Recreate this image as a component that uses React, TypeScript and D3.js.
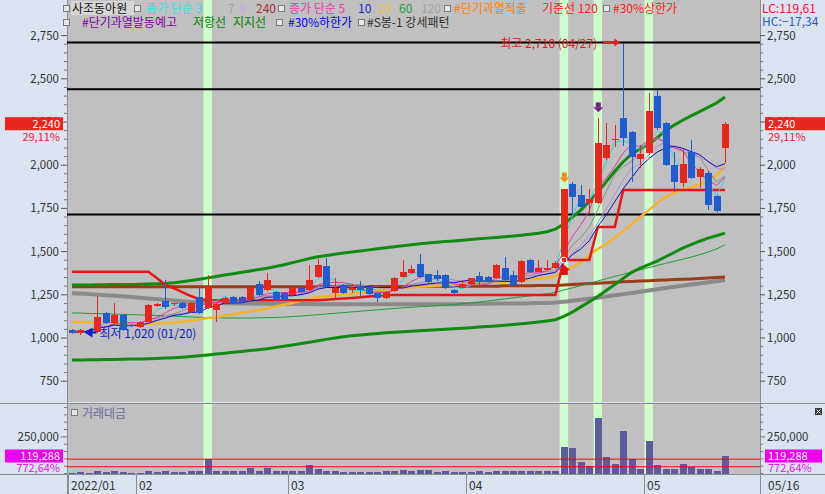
import React from "react";
import * as d3 from "d3";

const W = 825;
const H = 494;
const PLOT_L = 67;
const PLOT_R = 760;
const MAIN_B = 402;
const VOL_T = 404;
const VOL_B = 474;

const dates = [
  "2022-01-19","2022-01-20","2022-01-21","2022-01-24","2022-01-25","2022-01-26","2022-01-27","2022-01-28",
  "2022-02-03","2022-02-04","2022-02-07","2022-02-08","2022-02-09","2022-02-10","2022-02-11","2022-02-14","2022-02-15",
  "2022-02-16","2022-02-17","2022-02-18","2022-02-21","2022-02-22","2022-02-23","2022-02-24","2022-02-25","2022-02-28",
  "2022-03-02","2022-03-03","2022-03-04","2022-03-07","2022-03-08","2022-03-10","2022-03-11","2022-03-14","2022-03-15",
  "2022-03-16","2022-03-17","2022-03-18","2022-03-21","2022-03-22","2022-03-23","2022-03-24","2022-03-25","2022-03-28",
  "2022-03-29","2022-03-30","2022-03-31",
  "2022-04-01","2022-04-04","2022-04-05","2022-04-06","2022-04-07","2022-04-08","2022-04-11","2022-04-12","2022-04-13",
  "2022-04-14","2022-04-15","2022-04-18","2022-04-19","2022-04-20","2022-04-21","2022-04-22","2022-04-25","2022-04-26",
  "2022-04-27","2022-04-28","2022-04-29",
  "2022-05-02","2022-05-03","2022-05-04","2022-05-06","2022-05-09","2022-05-10","2022-05-11","2022-05-12","2022-05-13","2022-05-16",
];

const opens = [
  1045,1030,1045,1035,1145,1087,1133,1075,1064,1095,
  1188,1214,1194,1203,1150,1237,1174,1162,1203,1240,
  1237,1220,1312,1278,1266,1260,1249,1289,1278,1355,
  1418,1258,1307,1278,1301,1297,1258,1233,1272,1355,
  1374,1426,1368,1364,1364,1278,1291,1311,1359,1355,
  1345,1403,1364,1326,1451,1384,1393,1407,1451,1891,
  1828,1781,1781,2040,2146,2271,2194,2036,2069,2400,
  2242,2001,1895,2078,1933,1957,1822,2098,
];
const highs = [
  1050,1050,1052,1243,1150,1203,1140,1080,1098,1195,
  1205,1336,1205,1210,1208,1290,1365,1205,1238,1245,
  1245,1295,1330,1376,1272,1268,1295,1295,1422,1460,
  1463,1347,1315,1310,1330,1305,1262,1272,1352,1451,
  1420,1484,1372,1392,1368,1282,1336,1350,1380,1360,
  1430,1470,1390,1450,1458,1451,1451,1445,1865,1900,
  1885,1862,2271,2242,2233,2710,2200,2117,2416,2435,
  2252,2078,2088,2146,1990,1965,1830,2252,
];
const lows = [
  1028,1020,1030,1030,1080,1082,1040,1062,1060,1090,
  1180,1170,1185,1168,1145,1140,1165,1093,1198,1198,
  1200,1215,1245,1272,1215,1214,1245,1260,1272,1349,
  1290,1220,1255,1260,1240,1250,1207,1228,1268,1350,
  1370,1350,1320,1330,1284,1254,1288,1308,1300,1322,
  1340,1330,1300,1320,1378,1380,1390,1400,1440,1726,
  1755,1726,1775,2030,2107,2110,1904,1982,2060,2205,
  1995,1847,1876,1918,1867,1741,1730,2011,
];
const closes = [
  1030,1045,1036,1122,1087,1133,1046,1068,1093,1191,
  1194,1179,1200,1174,1203,1145,1297,1197,1232,1203,
  1206,1289,1249,1336,1220,1220,1289,1266,1336,1422,
  1297,1288,1258,1290,1278,1253,1230,1268,1349,1384,
  1397,1355,1326,1341,1288,1258,1311,1345,1326,1326,
  1422,1336,1307,1446,1384,1407,1403,1435,1865,1818,
  1760,1804,2128,2117,2152,2156,2049,2065,2315,2213,
  2001,1904,2007,1924,1976,1770,1735,2240,
];
// 거래대금 (백만원)
const volumes = [
  6000,8000,6000,20000,8000,14000,8000,6000,6000,14000,
  8000,20000,7000,8000,18000,20000,98000,20000,20000,14000,
  15000,38000,18000,38000,20000,15000,16000,15000,55000,34000,
  20000,15000,11000,13000,13000,13000,11000,15000,20000,25000,
  20000,27000,27000,13000,15000,11000,13000,11000,15000,11000,
  20000,15000,18000,20000,18000,15000,15000,20000,180000,174000,
  78000,51000,378000,112000,65000,290000,99000,31000,222000,58000,
  30000,30000,65000,44000,30000,30000,13669.8,119288,
];

const ma20 = [
  1095,1093,1091,1089,1087,1085,1083,1082,1081,1082,
  1084,1087,1090,1095,1100,1108,1116,1122,1130,1138,
  1146,1154,1162,1170,1182,1192,1203,1215,1228,1236,
  1242,1248,1253,1258,1263,1268,1275,1280,1285,1289,
  1292,1296,1299,1302,1305,1308,1311,1314,1317,1320,
  1323,1326,1330,1335,1340,1345,1350,1358,1385,1410,
  1440,1480,1515,1545,1580,1620,1660,1700,1740,1781,
  1815,1840,1858,1870,1890,1910,1940,1995,
];
const ma60 = [
  1145,1144,1142,1141,1140,1138,1137,1135,1134,1132,
  1130,1128,1126,1124,1122,1120,1118,1117,1116,1116,
  1116,1116,1117,1118,1119,1121,1124,1127,1131,1135,
  1139,1143,1147,1151,1155,1159,1163,1167,1171,1175,
  1178,1181,1184,1187,1190,1193,1198,1203,1208,1214,
  1220,1226,1232,1238,1244,1250,1256,1264,1278,1290,
  1303,1316,1330,1343,1356,1369,1382,1394,1407,1420,
  1432,1444,1456,1468,1482,1498,1515,1540,
];
const ma120 = [
  1259,1257,1254,1251,1248,1245,1241,1237,1233,1229,
  1225,1221,1217,1213,1209,1206,1204,1202,1201,1200,
  1199,1199,1198,1198,1198,1197,1197,1197,1197,1196,
  1196,1196,1195,1195,1195,1195,1195,1195,1195,1195,
  1195,1195,1195,1196,1196,1196,1197,1197,1198,1198,
  1199,1199,1200,1200,1201,1202,1203,1205,1210,1215,
  1221,1227,1233,1240,1247,1254,1261,1268,1275,1282,
  1289,1296,1303,1310,1316,1322,1329,1336,
];
const ma240 = [
  1297,1297,1297,1297,1297,1297,1297,1297,1297,1297,
  1297,1297,1297,1297,1297,1297,1297,1297,1297,1297,
  1297,1297,1297,1297,1297,1297,1297,1297,1297,1297,
  1298,1298,1298,1298,1298,1298,1298,1298,1298,1298,
  1299,1299,1299,1299,1299,1299,1300,1300,1300,1300,
  1300,1302,1302,1302,1302,1304,1304,1304,1307,1310,
  1312,1315,1317,1320,1322,1325,1327,1330,1332,1334,
  1336,1338,1340,1342,1345,1347,1350,1353,
];
// 저항선 / 지지선
const resistance = [
  1307,1307,1307,1308,1308,1309,1309,1310,1311,1312,
  1314,1316,1320,1326,1333,1340,1348,1356,1364,1372,
  1380,1388,1396,1404,1414,1424,1436,1448,1460,1470,
  1478,1485,1492,1498,1504,1510,1516,1522,1528,1534,
  1540,1545,1550,1554,1558,1562,1566,1570,1574,1578,
  1582,1586,1590,1595,1600,1606,1615,1630,1660,1700,
  1740,1790,1845,1905,1965,2020,2065,2095,2120,2160,
  2200,2232,2260,2285,2310,2335,2360,2395,
];
const support = [
  873,873,874,874,875,876,877,878,879,880,
  882,884,886,889,893,897,902,907,912,917,
  922,927,932,938,945,952,960,968,976,984,
  992,1000,1007,1013,1018,1022,1026,1030,1033,1036,
  1039,1042,1045,1048,1051,1054,1057,1060,1063,1066,
  1070,1074,1078,1082,1087,1093,1099,1106,1125,1150,
  1180,1210,1240,1275,1310,1345,1380,1405,1425,1445,
  1470,1495,1520,1540,1560,1578,1592,1607,
];
// 기준선 120
const baseLine = [
  1384,1384,1384,1384,1384,1384,1384,1384,1384,1384,
  1347,1307,1288,1266,1243,1226,1218,1218,1218,1218,
  1218,1218,1218,1218,1218,1218,1218,1218,1218,1218,
  1222,1225,1228,1232,1236,1240,1244,1249,1249,1249,
  1249,1249,1249,1249,1249,1249,1249,1249,1249,1249,
  1249,1249,1249,1249,1249,1249,1249,1249,1451,1451,
  1451,1451,1642,1642,1642,1856,1856,1856,1856,1856,
  1856,1856,1856,1856,1856,1856,1856,1856,
];

const signalDates = ["2022-02-15", "2022-04-18", "2022-04-22", "2022-05-02"];
const overheatDates = ["2022-04-18"];      // #단기과열적출
const warningDates = ["2022-04-22"];       // #단기과열발동예고
const upperLimitDates = ["2022-04-18"];    // #30%상한가
const levelLines = [2710, 2440, 1715];
const volRefLines = [98000, 46000];
const priceTicks = [750, 1000, 1250, 1500, 1750, 2000, 2250, 2500, 2750];
const shortMAs = [
  { n: 3, color: "#2ad8d8" },
  { n: 7, color: "#8e8e8e" },
  { n: 9, color: "#b58ae0" },
  { n: 5, color: "#e03aa8" },
  { n: 10, color: "#1010b0" },
];

const FONT = "'Noto Sans CJK KR', 'Noto Sans', sans-serif";
const RED = "#e8261e";
const BLUE = "#1f5ccf";
const AXIS_BG = "#dae3ef";
const PLOT_BG = "#c0c0c0";
const BAND = "#ccffcc";

const pct = (v: number) => d3.format(".2f")(v).replace(".", ",");
const num = d3.format(",");

export default function App() {
  const n = dates.length;
  const x = d3.scaleLinear().domain([0, n - 1]).range([72, 725]);
  const step = x(1) - x(0);
  const y = d3.scaleLinear().domain([750, 2750]).range([381.2, 35.6]);
  const yv = d3.scaleLinear().domain([0, 474000]).range([473.5, 404]);
  const idx = (d: string) => dates.indexOf(d);

  const line = d3.line<number>().x((_, i) => x(i)).y((v) => y(v));
  const sma = (k: number) =>
    closes.map((_, i) => d3.mean(closes.slice(Math.max(0, i - k + 1), i + 1)) as number);

  const last = n - 1;
  const lastClose = closes[last];
  const chg = (lastClose / closes[last - 1] - 1) * 100;
  const volChg = (volumes[last] / volumes[last - 1] - 1) * 100;
  const hiI = d3.maxIndex(highs);
  const loI = d3.minIndex(lows);
  const lc = (lastClose / lows[loI] - 1) * 100;
  const hc = (lastClose / highs[hiI] - 1) * 100;
  const mmdd = (d: string) => d.slice(5).replace("-", "/");

  const monthStarts = dates
    .map((d, i) => ({ d, i }))
    .filter(({ d, i }) => i === 0 || d.slice(0, 7) !== dates[i - 1].slice(0, 7));

  const minorTicks = d3.range(750, 2751, 50).filter((v) => v % 250 !== 0);
  const volMinor = d3.range(0, 470001, 50000);

  const yClose = y(lastClose);
  const yVolLast = yv(volumes[last]);

  const legend1 = [
    { t: "종가 단순 3", x: 146, c: "#30e0e0" },
    { t: "7", x: 228, c: "#a0a0a0" },
    { t: "9", x: 239, c: "#c8a0e8" },
    { t: "240", x: 256, c: "#a03030" },
    { t: "종가 단순 5", x: 289, c: "#e040b0" },
    { t: "10", x: 358, c: "#2020d0" },
    { t: "20", x: 378, c: "#e8c040" },
    { t: "60", x: 399, c: "#20a040" },
    { t: "120", x: 421, c: "#a0a0a0" },
    { t: "#단기과열적출", x: 454, c: "#ff7f00" },
    { t: "기준선 120", x: 542, c: "#ff2020" },
    { t: "#30%상한가", x: 613, c: "#ff2020" },
  ];
  const legend2 = [
    { t: "#단기과열발동예고", x: 82, c: "#8000a0" },
    { t: "저항선", x: 193, c: "#008000" },
    { t: "지지선", x: 233, c: "#008000" },
    { t: "#30%하한가", x: 288, c: "#0000ff" },
    { t: "#S봉-1 강세패턴", x: 367, c: "#303030" },
  ];
  const squares = [
    [63, 5], [134, 5], [278, 5], [444, 5], [603, 5],
    [63, 19], [276, 19], [358, 19],
  ];

  const hx = x(hiI);
  const lx = x(loI);

  return (
    <div style={{ position: "absolute", left: 0, top: 0 }}>
      <svg width={W} height={H} style={{ display: "block", fontFamily: FONT }}>
        <defs>
          <clipPath id="mainClip">
            <rect x={PLOT_L} y={0} width={PLOT_R - PLOT_L} height={MAIN_B} />
          </clipPath>
        </defs>
        {/* panels */}
        <rect x={0} y={0} width={W} height={H} fill={AXIS_BG} />
        <rect x={PLOT_L} y={0} width={PLOT_R - PLOT_L} height={MAIN_B} fill={PLOT_BG} />
        <rect x={PLOT_L} y={VOL_T} width={PLOT_R - PLOT_L} height={VOL_B - VOL_T} fill={PLOT_BG} />

        {/* signal bands */}
        {signalDates.map((d) => (
          <g key={d}>
            <rect x={x(idx(d)) - step / 2} y={0} width={step} height={MAIN_B} fill={BAND} />
            <rect x={x(idx(d)) - step / 2} y={VOL_T} width={step} height={VOL_B - VOL_T} fill={BAND} />
          </g>
        ))}

        {/* borders */}
        <g stroke="#8c8c8c" shapeRendering="crispEdges">
          <line x1={PLOT_L} x2={PLOT_L} y1={0} y2={H} />
          <line x1={PLOT_R} x2={PLOT_R} y1={0} y2={H} />
          <line x1={0} x2={W} y1={403} y2={403} />
          <line x1={0} x2={W} y1={VOL_B + 0.5} y2={VOL_B + 0.5} />
        </g>

        {/* price axes */}
        <g fontSize={11.5} fill="#333">
          {priceTicks.map((t) => (
            <g key={t}>
              <line x1={61} x2={PLOT_L} y1={y(t)} y2={y(t)} stroke="#555" />
              <line x1={PLOT_R} x2={PLOT_R + 5} y1={y(t)} y2={y(t)} stroke="#555" />
              <text x={59} y={y(t) + 4} textAnchor="end">{num(t)}</text>
              <text x={PLOT_R + 7} y={y(t) + 4}>{num(t)}</text>
            </g>
          ))}
          {minorTicks.map((t) => (
            <g key={t} stroke="#777">
              <line x1={64} x2={PLOT_L} y1={y(t)} y2={y(t)} />
              <line x1={PLOT_R} x2={PLOT_R + 3} y1={y(t)} y2={y(t)} />
            </g>
          ))}
        </g>

        <g clipPath="url(#mainClip)">
          {/* level lines */}
          {levelLines.map((v) => (
            <line key={v} x1={PLOT_L} x2={PLOT_R} y1={y(v)} y2={y(v)} stroke="#000" strokeWidth={2} />
          ))}
          {/* long averages & channels */}
          <path d={line(ma120) || ""} fill="none" stroke="#8a8a8a" strokeWidth={4} />
          <path d={line(ma240) || ""} fill="none" stroke="#9a3c18" strokeWidth={3} />
          <path d={line(ma60) || ""} fill="none" stroke="#1f9a3c" strokeWidth={1} />
          <path d={line(resistance) || ""} fill="none" stroke="#108a10" strokeWidth={3} />
          <path d={line(support) || ""} fill="none" stroke="#108a10" strokeWidth={3} />
          <path d={line(ma20) || ""} fill="none" stroke="#f2b428" strokeWidth={2.5} />
          <path d={line(baseLine) || ""} fill="none" stroke="#e81414" strokeWidth={2.5} />
          {shortMAs.map((m) => (
            <path key={m.n} d={line(sma(m.n)) || ""} fill="none" stroke={m.color} strokeWidth={1} />
          ))}

          {/* candles */}
          {closes.map((c, i) => {
            const o = opens[i];
            const col = c >= o ? RED : BLUE;
            const top = y(Math.max(o, c));
            const h = Math.max(1, Math.abs(y(o) - y(c)));
            return (
              <g key={i} shapeRendering="crispEdges">
                <line x1={Math.round(x(i)) + 0.5} x2={Math.round(x(i)) + 0.5} y1={y(highs[i])} y2={y(lows[i])} stroke={col} />
                <rect x={Math.round(x(i)) - 3} y={top} width={7} height={h} fill={col} />
              </g>
            );
          })}

          {/* signal markers */}
          {overheatDates.map((d) => {
            const cx = x(idx(d));
            const ty = y(highs[idx(d)]) - 16;
            return (
              <g key={"o" + d} fill="#f08c1e">
                <rect x={cx - 2} y={ty} width={5} height={5} />
                <polygon points={`${cx - 4.5},${ty + 5} ${cx + 5.5},${ty + 5} ${cx + 0.5},${ty + 10}`} />
              </g>
            );
          })}
          {warningDates.map((d) => {
            const cx = x(idx(d));
            const ty = y(highs[idx(d)]) - 16;
            return (
              <g key={"w" + d} fill="#7a1e8c">
                <rect x={cx - 2} y={ty} width={5} height={5} />
                <polygon points={`${cx - 4.5},${ty + 5} ${cx + 5.5},${ty + 5} ${cx + 0.5},${ty + 10}`} />
              </g>
            );
          })}
          {upperLimitDates.map((d) => {
            const cx = x(idx(d));
            const by = y(lows[idx(d)]) + 3;
            return (
              <g key={"u" + d}>
                <circle cx={cx} cy={y(opens[idx(d)])} r={3} fill="none" stroke="#fff" strokeWidth={1} />
                <polygon points={`${cx - 5},${by + 5} ${cx + 6},${by + 5} ${cx + 0.5},${by}`} fill="#e81010" />
                <rect x={cx - 3} y={by + 5} width={7} height={5} fill="#e81010" />
              </g>
            );
          })}

          {/* high / low annotations */}
          <text x={hx - 26} y={y(highs[hiI]) + 5} textAnchor="end" fontSize={12} fill="#e02020">
            {`최고 ${num(highs[hiI])} (${mmdd(dates[hiI])})`}
          </text>
          <line x1={hx - 20} x2={hx - 8} y1={y(highs[hiI])} y2={y(highs[hiI])} stroke="#e02020" strokeWidth={2} />
          <polygon
            points={`${hx - 9},${y(highs[hiI]) - 4} ${hx - 3},${y(highs[hiI])} ${hx - 9},${y(highs[hiI]) + 4}`}
            fill="#e02020"
          />
          <polygon
            points={`${lx + 4},${y(lows[loI]) - 2} ${lx + 12},${y(lows[loI]) - 7} ${lx + 12},${y(lows[loI]) + 3}`}
            fill="#1020c8"
          />
          <line x1={lx + 11} x2={lx + 16} y1={y(lows[loI]) - 2} y2={y(lows[loI]) - 2} stroke="#1020c8" strokeWidth={2} />
          <text x={lx + 19} y={y(lows[loI]) + 3} fontSize={12} fill="#1020c8">
            {`최저 ${num(lows[loI])} (${mmdd(dates[loI])})`}
          </text>
        </g>

        {/* legend */}
        <rect x={71} y={1} width={63} height={14} fill="#d6d6d6" />
        {squares.map(([sx, sy], i) => (
          <rect key={i} x={sx + 0.5} y={sy + 0.5} width={6} height={6} fill="#e6e6e6" stroke="#7a7a7a" />
        ))}
        <text x={72} y={13} fontSize={12} fill="#111">사조동아원</text>
        {legend1.map((l) => (
          <text key={l.t} x={l.x} y={13} fontSize={12} fill={l.c}>{l.t}</text>
        ))}
        {legend2.map((l) => (
          <text key={l.t} x={l.x} y={27} fontSize={12} fill={l.c}>{l.t}</text>
        ))}
        <text x={762} y={13} fontSize={12} fill="#e02030">{`LC:${pct(lc)}`}</text>
        <text x={762} y={26} fontSize={12} fill="#2060c0">{`HC:${pct(hc)}`}</text>

        {/* close labels */}
        <rect x={5} y={yClose - 6.5} width={58} height={13} fill={RED} />
        <text x={60} y={yClose + 4} textAnchor="end" fontSize={11} fill="#fff">{num(lastClose)}</text>
        <text x={60} y={yClose + 17} textAnchor="end" fontSize={11} fill="#e0203c">{pct(chg) + "%"}</text>
        <rect x={765} y={yClose - 6.5} width={60} height={13} fill={RED} />
        <text x={768} y={yClose + 4} fontSize={11} fill="#fff">{num(lastClose)}</text>
        <text x={768} y={yClose + 17} fontSize={11} fill="#e0203c">{pct(chg) + "%"}</text>

        {/* volume panel */}
        <rect x={71.5} y={409.5} width={6} height={6} fill="#e6e6e6" stroke="#7a7a7a" />
        <text x={82} y={418} fontSize={12} fill="#6a6a9a">거래대금</text>
        {volumes.map((v, i) => (
          <rect
            key={i}
            x={Math.round(x(i)) - 3}
            y={yv(v)}
            width={7}
            height={Math.max(0.8, yv(0) - yv(v))}
            fill="#5c5c98"
            shapeRendering="crispEdges"
          />
        ))}
        {volRefLines.map((v) => (
          <line key={v} x1={PLOT_L} x2={PLOT_R} y1={yv(v)} y2={yv(v)} stroke="#e01010" strokeWidth={1} />
        ))}
        <g fontSize={11.5} fill="#333">
          {volMinor.map((t) => (
            <g key={t} stroke="#777">
              <line x1={t === 250000 ? 61 : 64} x2={PLOT_L} y1={yv(t)} y2={yv(t)} />
              <line x1={PLOT_R} x2={PLOT_R + (t === 250000 ? 5 : 3)} y1={yv(t)} y2={yv(t)} />
            </g>
          ))}
          <text x={59} y={yv(250000) + 4} textAnchor="end">{num(250000)}</text>
          <text x={PLOT_R + 7} y={yv(250000) + 4}>{num(250000)}</text>
        </g>
        <rect x={5} y={yVolLast - 6.5} width={58} height={13} fill="#f000f0" />
        <text x={60} y={yVolLast + 4} textAnchor="end" fontSize={11} fill="#fff">{num(volumes[last])}</text>
        <text x={60} y={yVolLast + 16} textAnchor="end" fontSize={11} fill="#e020e0">{pct(volChg) + "%"}</text>
        <rect x={765} y={yVolLast - 6.5} width={57} height={13} fill="#f000f0" />
        <text x={768} y={yVolLast + 4} fontSize={11} fill="#fff">{num(volumes[last])}</text>
        <text x={768} y={yVolLast + 16} fontSize={11} fill="#e020e0">{pct(volChg) + "%"}</text>
        <rect x={815} y={408} width={7} height={7} fill="#3a3a3a" />
        <path d="M816.5,409.5 L820.5,413.5 M820.5,409.5 L816.5,413.5" stroke="#fff" strokeWidth={1} />

        {/* date axis */}
        <g fontSize={12} fill="#333">
          {monthStarts.map(({ d, i }) => {
            const lx0 = Math.round(x(i) - step / 2);
            return (
              <g key={d}>
                <line x1={lx0 + 0.5} x2={lx0 + 0.5} y1={VOL_B} y2={H} stroke="#8c8c8c" />
                <text x={lx0 + 3} y={490}>{i === 0 ? d.slice(0, 7).replace("-", "/") : d.slice(5, 7)}</text>
              </g>
            );
          })}
          <text x={768} y={490}>{mmdd(dates[last])}</text>
        </g>
      </svg>
    </div>
  );
}
